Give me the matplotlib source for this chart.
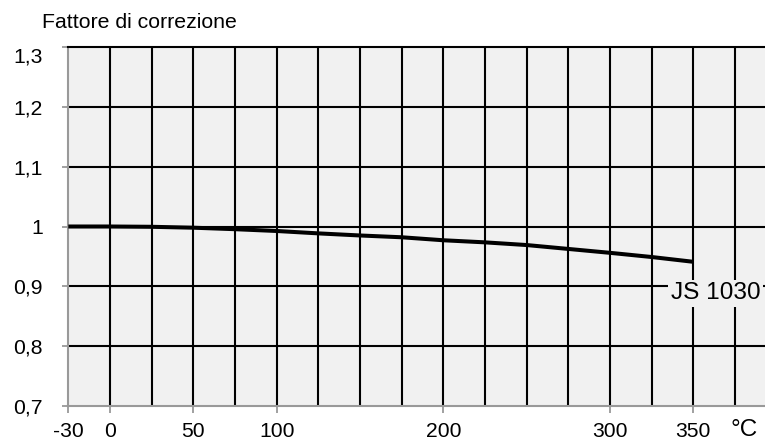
import matplotlib
matplotlib.use("Agg")
import matplotlib.pyplot as plt

# Data
temps = [-25, 0, 25, 50, 75, 100, 125, 150, 175, 200, 225, 250, 275, 300, 325, 350]
factors = [1.0, 1.0, 0.9995, 0.998, 0.9955, 0.9925, 0.9885, 0.985, 0.982,
           0.977, 0.9735, 0.969, 0.9625, 0.956, 0.949, 0.941]
x_tick_pos = [-25, 0, 50, 100, 200, 300, 350]
x_tick_labels = ["-30", "0", "50", "100", "200", "300", "350"]
y_tick_pos = [0.7, 0.8, 0.9, 1.0, 1.1, 1.2, 1.3]
y_tick_labels = ["0,7", "0,8", "0,9", "1", "1,1", "1,2", ""]
x_grid = [0, 25, 50, 75, 100, 125, 150, 175, 200, 225, 250, 275, 300, 325, 350, 375]
y_grid = [0.8, 0.9, 1.0, 1.1, 1.2]
series_label = "JS 1030"
y_title = "Fattore di correzione"
x_unit = "°C"

plt.rcParams['font.family'] = ['Liberation Sans', 'DejaVu Sans']

W, H = 765, 443
fig = plt.figure(figsize=(W / 100, H / 100), dpi=100)
left_px, right_px, top_px, bottom_px = 68.3, 765, 47, 406
ax = fig.add_axes([left_px / W, 1 - bottom_px / H, (right_px - left_px) / W, (bottom_px - top_px) / H])
bg = '#f1f1f1'
ax.set_facecolor(bg)
ax.set_xlim(-25, 393)
ax.set_ylim(0.7, 1.3)
ax.xaxis.remove_overlapping_locs = False
ax.yaxis.remove_overlapping_locs = False

ax.set_xticks(x_tick_pos)
ax.set_xticklabels(x_tick_labels)
ax.set_yticks(y_tick_pos)
ax.set_yticklabels(y_tick_labels)
ax.set_xticks(x_grid, minor=True)
ax.set_yticks(y_grid, minor=True)
ax.tick_params(axis='both', which='minor', length=0, labelbottom=False, labelleft=False)
tick_fs = 15.2
ax.tick_params(axis='x', which='major', length=5, width=1.3, color='#999999',
               labelsize=tick_fs, pad=6.5, labelcolor='black')
ax.tick_params(axis='y', which='major', length=4.3, width=1.3, color='#999999',
               labelsize=tick_fs, pad=13.9, labelcolor='black')
ax.grid(which='minor', color='black', linewidth=1.5)
ax.grid(which='major', visible=False)
ax.set_axisbelow(True)

for s in ['left', 'bottom']:
    ax.spines[s].set_color('#999999')
    ax.spines[s].set_linewidth(1.5)
ax.spines['right'].set_visible(False)
ax.spines['top'].set_color('black')
ax.spines['top'].set_linewidth(1.5)

ax.plot(temps, factors, color='black', linewidth=2.9, solid_capstyle='butt', zorder=3)

ax.text(336.6, 0.8783, series_label, fontsize=17.6, ha='left', va='baseline', zorder=4,
        bbox=dict(facecolor=bg, edgecolor='none', pad=2.0))

ax.annotate('1,3', xy=(0, 1.3), xycoords=('axes fraction', 'data'),
            xytext=(-(4.3 + 13.9), -7.5), textcoords='offset points',
            ha='right', va='center', fontsize=tick_fs)

fig.text(41.7 / W, 1 - 28.3 / H, y_title, fontsize=15.3, ha='left', va='baseline')
fig.text(731 / W, 1.5 / H, x_unit, fontsize=17.5, ha='left', va='bottom')

fig.savefig('out.png', dpi=100, facecolor='white')
